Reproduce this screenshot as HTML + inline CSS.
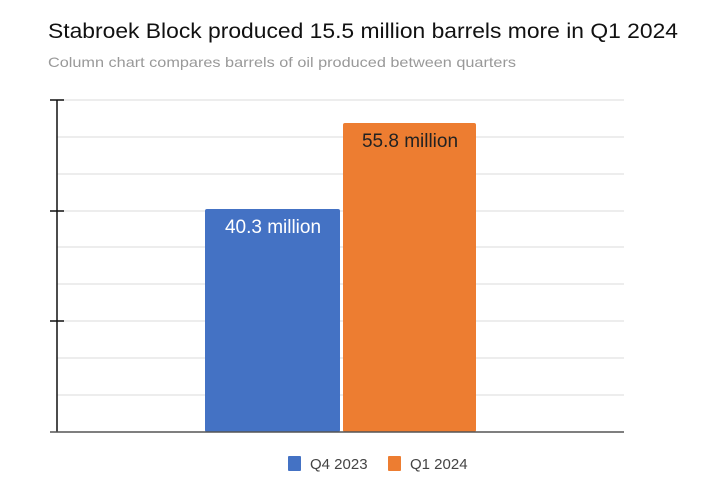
<!DOCTYPE html>
<html><head><meta charset="utf-8"><style>
body{margin:0;background:#fff;width:728px;height:488px;overflow:hidden;font-family:"Liberation Sans","DejaVu Sans",sans-serif}
</style></head><body>
<svg width="728" height="488" xmlns="http://www.w3.org/2000/svg">
<text x="48" y="38" font-size="21" fill="#111" textLength="630" lengthAdjust="spacingAndGlyphs">Stabroek Block produced 15.5 million barrels more in Q1 2024</text>
<text x="48" y="67" font-size="14" fill="#999" textLength="468" lengthAdjust="spacingAndGlyphs">Column chart compares barrels of oil produced between quarters</text>
<g stroke="#e2e2e2" stroke-width="1.3">
<line x1="57" x2="624" y1="100" y2="100"/><line x1="57" x2="624" y1="137" y2="137"/>
<line x1="57" x2="624" y1="174" y2="174"/><line x1="57" x2="624" y1="211" y2="211"/>
<line x1="57" x2="624" y1="247" y2="247"/><line x1="57" x2="624" y1="284" y2="284"/>
<line x1="57" x2="624" y1="321" y2="321"/><line x1="57" x2="624" y1="358" y2="358"/>
<line x1="57" x2="624" y1="395" y2="395"/>
</g>
<rect x="205" y="209" width="135" height="223" rx="2" fill="#4472c4"/>
<rect x="343" y="123" width="133" height="309" rx="2" fill="#ed7d31"/>
<text x="273" y="233" font-size="19" fill="#fff" text-anchor="middle">40.3 million</text>
<text x="410" y="147" font-size="19" fill="#222" text-anchor="middle">55.8 million</text>
<line x1="57" x2="57" y1="100" y2="432" stroke="#111" stroke-width="1.5"/>
<line x1="50" x2="64" y1="100" y2="100" stroke="#111" stroke-width="1.5"/>
<line x1="50" x2="64" y1="211" y2="211" stroke="#111" stroke-width="1.5"/>
<line x1="50" x2="64" y1="321" y2="321" stroke="#111" stroke-width="1.5"/>
<line x1="50" x2="624" y1="432" y2="432" stroke="#555" stroke-width="1.5"/>
<rect x="288" y="456" width="13" height="15" rx="1" fill="#4472c4"/>
<text x="310" y="469" font-size="15" fill="#444">Q4 2023</text>
<rect x="388" y="456" width="13" height="15" rx="1" fill="#ed7d31"/>
<text x="410" y="469" font-size="15" fill="#444">Q1 2024</text>
</svg>
</body></html>
